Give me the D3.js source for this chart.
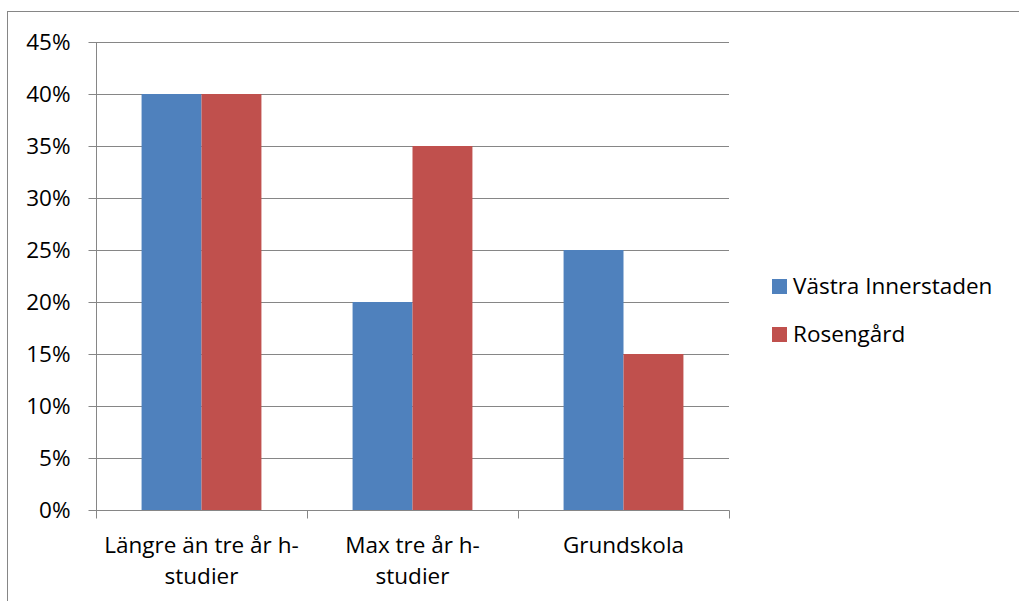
<!DOCTYPE html>
<html><head><meta charset="utf-8">
<script src="https://cdn.jsdelivr.net/npm/d3@7"></script>
<style>body{margin:0;background:#fff}svg{display:block}text{font-family:"Open Sans",sans-serif;fill:#000}</style>
</head><body>
<script>
const categories = [["Längre än tre år h-","studier"],["Max tre år h-","studier"],["Grundskola"]];
const seriesNames = ["Västra Innerstaden","Rosengård"];
const vastraInnerstaden = [0.40, 0.20, 0.25];
const rosengard = [0.40, 0.35, 0.15];
const colors = ["#4F81BD","#C0504D"];
const yTicks = [0,0.05,0.10,0.15,0.20,0.25,0.30,0.35,0.40,0.45];

(function(){
const W=1019,H=601,FS=22.5;
const svg=d3.select("body").append("svg").attr("width",W).attr("height",H);
svg.append("rect").attr("x",7.5).attr("y",11.5).attr("width",W+10).attr("height",H+10)
  .attr("fill","#fff").attr("stroke","#868686").attr("stroke-width",1);

const pL=96,pR=729,pT=42,pB=510;
const y=d3.scaleLinear().domain([0,0.45]).range([pB,pT]);
const catIdx=categories.map((c,i)=>i);
const x0=d3.scaleBand().domain(catIdx).range([pL,pR]).padding(0);
const x1=d3.scaleBand().domain([0,1]).range([x0.bandwidth()*0.216,x0.bandwidth()*(1-0.216)]).padding(0);

svg.append("g").selectAll("line").data(yTicks.filter(d=>d>0)).join("line")
  .attr("x1",pL).attr("x2",pR).attr("y1",d=>Math.round(y(d))+0.5).attr("y2",d=>Math.round(y(d))+0.5)
  .attr("stroke","#868686");

const data=[vastraInnerstaden,rosengard];
const g=svg.append("g");
data.forEach((vals,s)=>{
  g.selectAll(null).data(vals).join("rect")
    .attr("x",(d,i)=>x0(i)+x1(s)).attr("width",x1.bandwidth())
    .attr("y",d=>y(d)).attr("height",d=>pB-y(d))
    .attr("fill",colors[s]);
});

const yAxis=d3.axisLeft(y).tickValues(yTicks).tickFormat(d=>Math.round(d*100)+"%").tickSize(8).tickPadding(18);
const ya=svg.append("g").attr("transform",`translate(${pL+0.5},0)`).call(yAxis);
ya.select(".domain").attr("stroke","#868686").attr("d",`M0,${pT}V${pB}`);
ya.selectAll(".tick line").attr("stroke","#868686");
ya.selectAll(".tick text").attr("font-size",FS).attr("font-family","Open Sans").attr("fill","#000");

const xa=svg.append("g").attr("transform",`translate(0,${pB+0.5})`);
xa.append("line").attr("x1",pL).attr("x2",pR+0.5).attr("stroke","#868686");
xa.selectAll(".tk").data([0,1,2,3]).join("line").attr("class","tk")
  .attr("x1",d=>Math.round(d<3?x0(d):pR)+0.5).attr("x2",d=>Math.round(d<3?x0(d):pR)+0.5)
  .attr("y1",0).attr("y2",8).attr("stroke","#868686");
xa.selectAll(".lbl").data(categories).join("text").attr("class","lbl")
  .attr("text-anchor","middle").attr("font-size",FS)
  .each(function(lines,i){
    const t=d3.select(this);
    lines.forEach((ln,j)=>t.append("tspan").attr("x",x0(i)+x0.bandwidth()/2).attr("y",42+j*31).text(ln));
  });

const lg=svg.append("g").attr("transform","translate(772,0)");
seriesNames.forEach((n,i)=>{
  const cy=287+i*48;
  lg.append("rect").attr("x",0).attr("y",cy-8).attr("width",15).attr("height",15).attr("fill",colors[i]);
  lg.append("text").attr("x",21).attr("y",cy+7).attr("font-size",FS).text(n);
});
})();
</script>
</body></html>
